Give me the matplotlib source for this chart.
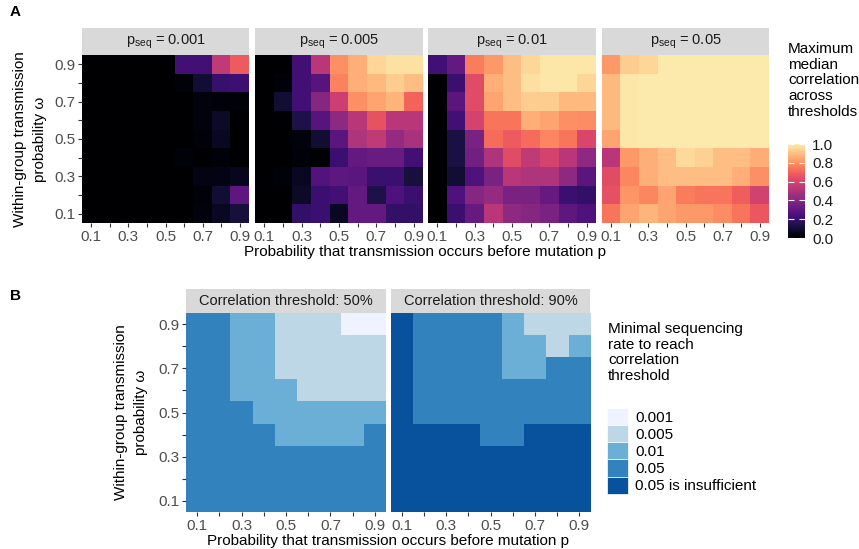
import matplotlib
matplotlib.use('Agg')
import matplotlib.pyplot as plt
import numpy as np
from matplotlib.colors import ListedColormap
from matplotlib.patches import Patch

plt.rcParams['font.family'] = ['Liberation Sans', 'DejaVu Sans']

# ---- data ----
p_vals = [0.1, 0.2, 0.3, 0.4, 0.5, 0.6, 0.7, 0.8, 0.9]
tick_labels = ['0.1', '', '0.3', '', '0.5', '', '0.7', '', '0.9']

# panel A: max median correlation, rows omega 0.9 (top) -> 0.1 (bottom), cols p 0.1 -> 0.9
corr_0001 = [
    [0, 0, 0, 0, 0, 0.23, 0.23, 0.55, 0.68],
    [0, 0, 0, 0, 0, 0.02, 0.10, 0.20, 0.22],
    [0, 0, 0, 0, 0, 0.00, 0.03, 0.02, 0.02],
    [0, 0, 0, 0, 0, 0.00, 0.03, 0.08, 0.00],
    [0, 0, 0, 0, 0, 0.00, 0.02, 0.07, 0.00],
    [0, 0, 0, 0, 0, 0.02, 0.00, 0.02, 0.00],
    [0, 0, 0, 0, 0, 0.00, 0.04, 0.04, 0.06],
    [0, 0, 0, 0, 0, 0.00, 0.02, 0.10, 0.30],
    [0, 0, 0, 0, 0, 0.00, 0.03, 0.07, 0.12],
]
corr_0005 = [
    [0, 0.01, 0.23, 0.53, 0.80, 0.87, 0.95, 0.98, 0.98],
    [0, 0.02, 0.23, 0.28, 0.77, 0.86, 0.89, 0.93, 0.90],
    [0, 0.10, 0.23, 0.40, 0.58, 0.80, 0.84, 0.88, 0.70],
    [0, 0.00, 0.14, 0.28, 0.42, 0.53, 0.66, 0.53, 0.53],
    [0, 0.00, 0.03, 0.10, 0.29, 0.50, 0.55, 0.44, 0.49],
    [0, 0.00, 0.02, 0.01, 0.21, 0.31, 0.33, 0.33, 0.23],
    [0, 0.02, 0.07, 0.27, 0.30, 0.29, 0.21, 0.21, 0.12],
    [0, 0.00, 0.08, 0.21, 0.23, 0.31, 0.14, 0.26, 0.21],
    [0, 0.00, 0.19, 0.21, 0.07, 0.31, 0.31, 0.19, 0.19],
]
corr_001 = [
    [0.23, 0.31, 0.76, 0.82, 0.90, 0.95, 0.99, 0.99, 0.99],
    [0.00, 0.21, 0.63, 0.86, 0.90, 0.97, 0.99, 0.99, 0.95],
    [0.01, 0.29, 0.63, 0.84, 0.90, 0.93, 0.93, 0.89, 0.89],
    [0.00, 0.23, 0.60, 0.74, 0.74, 0.86, 0.84, 0.80, 0.79],
    [0.01, 0.13, 0.37, 0.72, 0.68, 0.72, 0.78, 0.74, 0.61],
    [0.00, 0.13, 0.35, 0.50, 0.63, 0.55, 0.60, 0.53, 0.42],
    [0.00, 0.10, 0.26, 0.37, 0.53, 0.50, 0.50, 0.42, 0.29],
    [0.00, 0.26, 0.40, 0.44, 0.37, 0.37, 0.32, 0.21, 0.19],
    [0.00, 0.21, 0.32, 0.53, 0.42, 0.40, 0.37, 0.30, 0.26],
]
corr_005 = [
    [0.82, 0.93, 0.95, 1.00, 1.00, 1.00, 1.00, 1.00, 1.00],
    [0.89, 0.99, 1.00, 1.00, 1.00, 1.00, 1.00, 1.00, 1.00],
    [0.89, 0.99, 1.00, 1.00, 1.00, 1.00, 1.00, 1.00, 1.00],
    [0.89, 0.99, 1.00, 1.00, 1.00, 1.00, 1.00, 1.00, 1.00],
    [0.84, 0.99, 1.00, 1.00, 1.00, 1.00, 1.00, 1.00, 1.00],
    [0.53, 0.82, 0.87, 0.90, 0.96, 0.94, 0.90, 0.90, 0.86],
    [0.63, 0.78, 0.87, 0.90, 0.90, 0.90, 0.90, 0.86, 0.80],
    [0.65, 0.81, 0.78, 0.84, 0.76, 0.74, 0.74, 0.69, 0.59],
    [0.74, 0.84, 0.88, 0.84, 0.82, 0.82, 0.79, 0.74, 0.67],
]
pseq_labels = ['0.001', '0.005', '0.01', '0.05']

# panel B: category index of minimal sequencing rate
# 0 = 0.001, 1 = 0.005, 2 = 0.01, 3 = 0.05, 4 = 0.05 is insufficient
min_rate_50 = [
    [3, 3, 2, 2, 1, 1, 1, 0, 0],
    [3, 3, 2, 2, 1, 1, 1, 1, 1],
    [3, 3, 2, 2, 1, 1, 1, 1, 1],
    [3, 3, 2, 2, 2, 1, 1, 1, 1],
    [3, 3, 3, 2, 2, 2, 2, 2, 2],
    [3, 3, 3, 3, 2, 2, 2, 2, 3],
    [3, 3, 3, 3, 3, 3, 3, 3, 3],
    [3, 3, 3, 3, 3, 3, 3, 3, 3],
    [3, 3, 3, 3, 3, 3, 3, 3, 3],
]
min_rate_90 = [
    [4, 3, 3, 3, 3, 2, 1, 1, 1],
    [4, 3, 3, 3, 3, 2, 2, 1, 2],
    [4, 3, 3, 3, 3, 2, 2, 3, 3],
    [4, 3, 3, 3, 3, 3, 3, 3, 3],
    [4, 3, 3, 3, 3, 3, 3, 3, 3],
    [4, 4, 4, 4, 3, 3, 4, 4, 4],
    [4, 4, 4, 4, 4, 4, 4, 4, 4],
    [4, 4, 4, 4, 4, 4, 4, 4, 4],
    [4, 4, 4, 4, 4, 4, 4, 4, 4],
]
threshold_labels = ['Correlation threshold: 50%', 'Correlation threshold: 90%']
rate_labels = ['0.001', '0.005', '0.01', '0.05', '0.05 is insufficient']
rate_colors = ['#eff3ff', '#bdd7e7', '#6baed6', '#3182bd', '#08519c']

# ---- layout helpers ----
W, H = 859, 549
fig = plt.figure(figsize=(W / 100, H / 100), dpi=100)


def px(x0, y0, x1, y1):
    return [x0 / W, 1 - y1 / H, (x1 - x0) / W, (y1 - y0) / H]


def style_ax(ax, show_y):
    for s in ax.spines.values():
        s.set_visible(False)
    ax.set_xticks(p_vals)
    ax.set_xticklabels(tick_labels)
    ax.set_yticks(p_vals)
    ax.set_yticklabels(tick_labels if show_y else [])
    ax.tick_params(length=3, color='#333333', labelcolor='#4d4d4d',
                   labelsize=11, pad=2, left=show_y)
    ax.set_xlim(0.05, 0.95)
    ax.set_ylim(0.05, 0.95)


def strip(x0, y0, x1, y1, label):
    sax = fig.add_axes(px(x0, y0, x1, y1))
    sax.set_facecolor('#d9d9d9')
    for s in sax.spines.values():
        s.set_visible(False)
    sax.set_xticks([])
    sax.set_yticks([])
    sax.text(0.5, 0.5, label, ha='center', va='center', transform=sax.transAxes,
             fontsize=10.5, color='#1a1a1a')


magma_cut = ListedColormap(plt.cm.magma(np.linspace(0, 0.96, 256)))
ext = (0.05, 0.95, 0.05, 0.95)

# ---- panel A ----
xs_a = [(82, 249), (255, 423), (428, 596), (602, 769)]
for i, (data, lab) in enumerate(zip([corr_0001, corr_0005, corr_001, corr_005], pseq_labels)):
    x0, x1 = xs_a[i]
    ax = fig.add_axes(px(x0, 55, x1, 223))
    im = ax.imshow(np.array(data), cmap=magma_cut, vmin=0, vmax=1, extent=ext,
                   origin='upper', aspect='auto', interpolation='nearest')
    style_ax(ax, i == 0)
    strip(x0, 28, x1, 55, r'$\mathregular{p_{seq}}$ = ' + lab)

cax = fig.add_axes(px(788, 144, 805, 238))
cb = fig.colorbar(im, cax=cax, ticks=[0, 0.2, 0.4, 0.6, 0.8, 1.0])
cb.outline.set_visible(False)
cb.ax.set_yticklabels(['0.0', '0.2', '0.4', '0.6', '0.8', '1.0'])
cb.ax.tick_params(color='white', direction='in', length=4, labelsize=11,
                  labelcolor='#1a1a1a', pad=5, left=True, right=True)
fig.text(788 / W, 1 - 42 / H, 'Maximum\nmedian\ncorrelation\nacross\nthresholds',
         ha='left', va='top', fontsize=11, linespacing=1.15)

fig.text(425 / W, 1 - 252 / H, 'Probability that transmission occurs before mutation p',
         ha='center', va='center', fontsize=11)
fig.text(30 / W, 1 - 139 / H, 'Within-group transmission\nprobability ω',
         ha='center', va='center', rotation=90, fontsize=11, linespacing=1.55)
fig.text(10 / W, 1 - 12 / H, 'A', ha='left', va='center', fontsize=11, fontweight='bold')

# ---- panel B ----
blues = ListedColormap(rate_colors)
xs_b = [(186, 386), (391, 590)]
for i, (data, lab) in enumerate(zip([min_rate_50, min_rate_90], threshold_labels)):
    x0, x1 = xs_b[i]
    ax = fig.add_axes(px(x0, 313, x1, 512))
    ax.imshow(np.array(data), cmap=blues, vmin=-0.5, vmax=4.5, extent=ext,
              origin='upper', aspect='auto', interpolation='nearest')
    style_ax(ax, i == 0)
    strip(x0, 289, x1, 313, lab)

fig.text(608 / W, 1 - 322 / H, 'Minimal sequencing\nrate to reach\ncorrelation\nthreshold',
         ha='left', va='top', fontsize=11, linespacing=1.15)
handles = [Patch(facecolor=c, edgecolor='white', linewidth=0.5) for c in rate_colors]
fig.legend(handles, rate_labels, loc='upper left', bbox_to_anchor=(607 / W, 1 - 408 / H),
           frameon=False, fontsize=11, handlelength=1.4, handleheight=1.35,
           labelspacing=0.0, handletextpad=0.45, borderpad=0, borderaxespad=0)

fig.text(388 / W, 1 - 541 / H, 'Probability that transmission occurs before mutation p',
         ha='center', va='center', fontsize=11)
fig.text(131 / W, 1 - 412 / H, 'Within-group transmission\nprobability ω',
         ha='center', va='center', rotation=90, fontsize=11, linespacing=1.55)
fig.text(10 / W, 1 - 296 / H, 'B', ha='left', va='center', fontsize=11, fontweight='bold')

fig.savefig('out.png', dpi=100, facecolor='white')
